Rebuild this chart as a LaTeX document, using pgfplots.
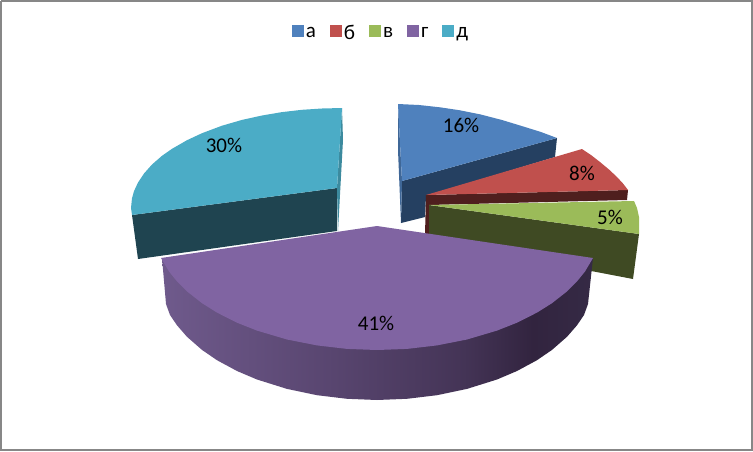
\documentclass[border=0pt]{standalone}
\usepackage{fontspec}
\setmainfont{Carlito}
\usepackage{pgfplots}
\pgfplotsset{compat=1.18}

\definecolor{ca}{HTML}{4F81BD}
\definecolor{cb}{HTML}{C0504D}
\definecolor{cv}{HTML}{9BBB59}
\definecolor{cg}{HTML}{8064A2}
\definecolor{cd}{HTML}{4BACC6}
\definecolor{da}{HTML}{254061}
\definecolor{db}{HTML}{4F1F1E}
\definecolor{dv}{HTML}{3F4A23}
\definecolor{dd}{HTML}{1F4450}
\definecolor{s1}{HTML}{6F5A8C}
\definecolor{s2}{HTML}{58456F}
\definecolor{s3}{HTML}{443456}
\definecolor{s4}{HTML}{32243F}
\definecolor{s5}{HTML}{352A45}

\pgfdeclarehorizontalshading{sideg}{100bp}{
  color(0bp)=(s1);
  color(25bp)=(s1);
  color(45bp)=(s2);
  color(60bp)=(s3);
  color(68bp)=(s4);
  color(75bp)=(s5);
  color(100bp)=(s5)}

\begin{document}
\begin{tikzpicture}
\begin{axis}[
    scale only axis,
    width=753pt, height=451pt,
    xmin=0, xmax=753, ymin=0, ymax=451,
    y dir=reverse,
    hide axis,
    clip=false,
    legend columns=5,
    legend cell align=left,
    legend image code/.code={\path[#1] (0pt,-4pt) rectangle (12pt,8pt);},
    legend style={at={(axis cs:381,33)}, anchor=center, draw=none, fill=none,
        font=\fontsize{21}{22}\selectfont, inner sep=0pt, outer sep=0pt,
        /tikz/every even column/.append style={column sep=12pt}},
]
% frame
\addplot[forget plot, draw=black!47, line width=2pt] coordinates {
    (1,1) (752,1) (752,450) (1,450) (1,1)};

% а
\addplot[forget plot, draw=none, fill=da] coordinates {
    (402,181) (557,138) (555,157) (426,196) (425,217) (401,223)};
\addplot[forget plot, draw=none, fill=ca!80!black] coordinates {
    (398,104) (398,150) (401,223) (402,181)};
\addplot[draw=none, fill=ca] coordinates {
    (398,104) (419,105) (440,107.3) (460,110.3) (480,114.3) (502,120) (523,126.4) (541,132) (557,138) (402,181)};
\addlegendentry{а}

% б
\addplot[forget plot, draw=none, fill=db] coordinates {
    (426,195) (628,190) (627,200) (429,205) (429,235) (425,235)};
\addplot[draw=none, fill=cb] coordinates {
    (582,149) (591,155) (600,162) (609,169.5) (617,177) (623,183.5) (628,190) (426,195)};
\addlegendentry{б}

% в
\addplot[forget plot, draw=none, fill=dv] coordinates {
    (429,205) (639,234) (633,279) (429,240)};
\addplot[draw=none, fill=cv] coordinates {
    (429,205) (634,201) (637,208) (639,217) (639,234)};
\addlegendentry{в}

% г
\addplot[forget plot, draw=none, shading=sideg, shade] coordinates {
    (162,258) (166,304) (170,315) (177,325.3) (187,336.8) (202,349.9) (217,360.2) (237,371) (257,379.5)
    (287,388.9) (317,395.2) (347,398.8) (377,400) (407,398.8) (437,395.2) (467,388.9)
    (497,379.5) (517,371) (537,360.2) (552,349.9) (567,336.8) (577,325.3) (584,315) (588,304) (593,258)};
\addplot[draw=none, fill=cg] coordinates {
    (161,258) (169,271.5) (177,281.4) (187,291.4) (202,303.2) (217,312.6) (237,322.7) (257,330.6)
    (287,339.5) (317,345.4) (347,348.9) (377,350) (407,348.9) (437,345.4) (467,339.5)
    (497,330.6) (517,322.7) (537,312.6) (552,303.2) (567,291.4) (577,281.4) (585,271.5) (593,258) (377,226)};
\addlegendentry{г}

% д
\addplot[forget plot, draw=none, fill=dd] coordinates {
    (132,215) (138,259) (337,231) (337,188)};
\addplot[forget plot, draw=none, fill=cd!80!black] coordinates {
    (342,108) (343,140) (338,231) (337,188)};
\addplot[draw=none, fill=cd] coordinates {
    (342,108) (322,108.5) (302,109.8) (282,112.1) (262,115.5) (242,119.9) (222,125.7) (202,133.2)
    (187,140.2) (172,148.8) (162,155.8) (152,164.5) (144,173.5) (138,182.5) (134,191.2)
    (132,198.3) (131,208) (132,215) (337,188)};
\addlegendentry{д}

\node[font=\fontsize{21}{22}\selectfont] at (axis cs:461,125) {16\%};
\node[font=\fontsize{21}{22}\selectfont] at (axis cs:582,173) {8\%};
\node[font=\fontsize{21}{22}\selectfont] at (axis cs:610,217) {5\%};
\node[font=\fontsize{21}{22}\selectfont] at (axis cs:224,145) {30\%};
\node[font=\fontsize{21}{22}\selectfont] at (axis cs:376,323) {41\%};
\end{axis}
\end{tikzpicture}
\end{document}
